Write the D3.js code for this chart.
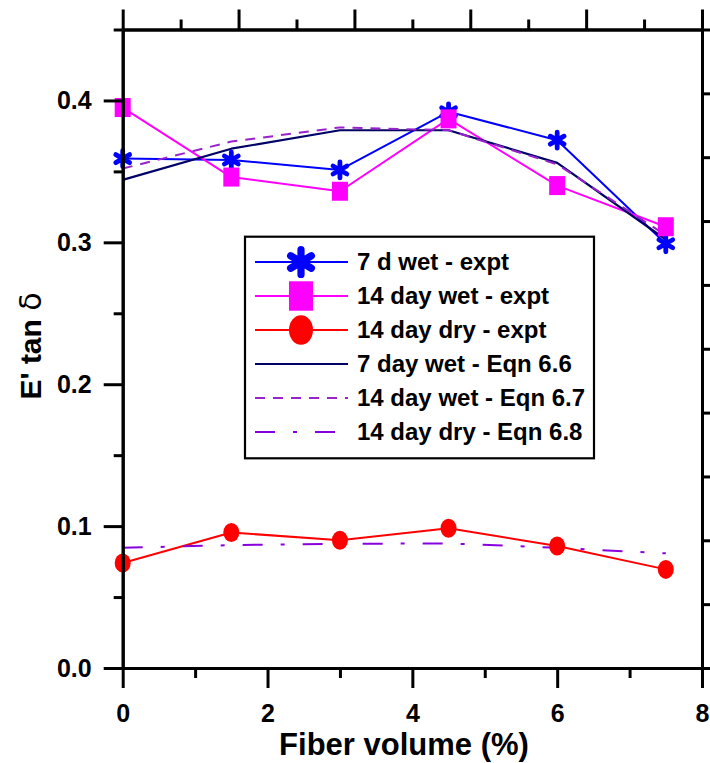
<!DOCTYPE html>
<html>
<head>
<meta charset="utf-8">
<script src="https://cdn.jsdelivr.net/npm/d3@7"></script>
<style>
html,body{margin:0;padding:0;background:#fff;}
svg{display:block;}
text{font-family:"Liberation Sans",Arial,sans-serif;font-weight:bold;fill:#000;}
</style>
</head>
<body>
<script>
// ---- data ----
const fiber = [0, 1.5, 3, 4.5, 6, 7.5];
const wet7Expt  = [0.359, 0.358, 0.351, 0.392, 0.372, 0.299];
const wet14Expt = [0.395, 0.346, 0.336, 0.387, 0.340, 0.311];
const dry14Expt = [0.074, 0.0955, 0.090, 0.0985, 0.086, 0.0695];
const wet7Eqn   = [0.344, 0.366, 0.379, 0.379, 0.356, 0.302];
const wet14Eqn  = [0.352, 0.371, 0.381, 0.379, 0.355, 0.305];
const dry14Eqn  = [0.0847, 0.0866, 0.0875, 0.0878, 0.0847, 0.0808];
const seriesNames = ["7 d wet - expt", "14 day wet - expt", "14 day dry - expt",
                     "7 day wet - Eqn 6.6", "14 day wet - Eqn 6.7", "14 day dry - Eqn 6.8"];
const xMajorTicks = [0, 2, 4, 6, 8];
const xMinorTicks = [1, 3, 5, 7];
const yMajorTicks = [0, 0.1, 0.2, 0.3, 0.4];
const yMinorTicks = [0.05, 0.15, 0.25, 0.35, 0.45];
const xTitle = "Fiber volume (%)";
const yTitleMain = "E' tan ";
const yTitleSym = "\u03B4";

// ---- styles ----
const W = 710, H = 763;
const styles = [
  {color:"#0000FF", width:2, dash:null, marker:"star"},
  {color:"#FF00FF", width:2, dash:null, marker:"square"},
  {color:"#FF0000", width:2, dash:null, marker:"circle"},
  {color:"#000066", width:2.2, dash:null, marker:null},
  {color:"#9922CC", width:2, dash:"10,8", marker:null},
  {color:"#8800DD", width:2, dash:"20,18,4,18", marker:null}
];
const seriesVals = [wet7Expt, wet14Expt, dry14Expt, wet7Eqn, wet14Eqn, dry14Eqn];

const svg = d3.select("body").append("svg").attr("width", W).attr("height", H);

const x = d3.scaleLinear().domain([0, 8]).range([122.7, 702]);
const y = d3.scaleLinear().domain([0, 0.45]).range([668, 29.5]);
// secondary (unlabelled) frame scales
const xTop = d3.scaleLinear().domain([0, 10]).range([122.7, 702]);
const yRight = d3.scaleLinear().domain([0, 10]).range([668, 29.5]);

const fmtY = d3.format(".1f");

// ---- series lines ----
const line = d3.line().x((d,i)=>x(fiber[i])).y(d=>y(d));
[0,1,2,3,4,5].forEach(k=>{
  const s = styles[k];
  const p = svg.append("path").datum(seriesVals[k])
    .attr("d", line).attr("fill","none")
    .attr("stroke", s.color).attr("stroke-width", s.width)
    .attr("stroke-linejoin","round");
  if (s.dash) p.attr("stroke-dasharray", s.dash);
});

// ---- markers ----
function drawMarker(g, type, color, cx, cy, sx, sy) {
  if (type === "star") {
    const r = 8;
    const t = r/2, u = t*Math.sqrt(3);
    const d = `M0,${r}L0,${-r}M${-u},${-t}L${u},${t}M${-u},${t}L${u},${-t}`;
    g.append("path").attr("d", d)
      .attr("transform", `translate(${cx},${cy}) scale(${sx},${sy})`)
      .attr("fill","none").attr("stroke", color)
      .attr("stroke-width", 4.8).attr("stroke-linecap","round");
  } else if (type === "square") {
    g.append("rect").attr("x", cx-8*sx).attr("y", cy-9.5*sy)
      .attr("width", 16*sx).attr("height", 19*sy).attr("fill", color);
  } else if (type === "circle") {
    g.append("ellipse").attr("cx", cx).attr("cy", cy)
      .attr("rx", 8*sx).attr("ry", 9.5*sy).attr("fill", color);
  }
}
const mk = svg.append("g");
[0,1,2].forEach(k=>{
  seriesVals[k].forEach((v,i)=>{
    drawMarker(mk, styles[k].marker, styles[k].color, x(fiber[i]), y(v), 1, 1);
  });
});

// ---- axes ----
function styleAxis(g){
  g.selectAll(".domain").attr("stroke","#000").attr("stroke-width",3);
  g.selectAll(".tick line").attr("stroke","#000").attr("stroke-width",3);
  g.selectAll("text").attr("font-size",25).attr("font-weight","bold")
    .attr("font-family","'Liberation Sans',Arial,sans-serif").attr("fill","#000");
}
// left
svg.append("g").attr("transform",`translate(${x(0)},0)`)
  .call(d3.axisLeft(y).tickValues(yMinorTicks).tickSize(9).tickSizeOuter(0).tickFormat(""))
  .call(styleAxis);
svg.append("g").attr("transform",`translate(${x(0)},0)`)
  .call(d3.axisLeft(y).tickValues(yMajorTicks).tickSize(19).tickSizeOuter(0).tickPadding(12).tickFormat(fmtY))
  .call(styleAxis);
// bottom
svg.append("g").attr("transform",`translate(0,${y(0)})`)
  .call(d3.axisBottom(x).tickValues(xMinorTicks).tickSize(10).tickSizeOuter(0).tickFormat(""))
  .call(styleAxis);
svg.append("g").attr("transform",`translate(0,${y(0)})`)
  .call(d3.axisBottom(x).tickValues(xMajorTicks).tickSize(20).tickSizeOuter(0).tickPadding(16).tickFormat(d3.format("d")))
  .call(styleAxis);
// top (no labels)
svg.append("g").attr("transform",`translate(0,${y(0.45)})`)
  .call(d3.axisTop(xTop).tickValues([1,3,5,7,9]).tickSize(10).tickSizeOuter(0).tickFormat(""))
  .call(styleAxis);
svg.append("g").attr("transform",`translate(0,${y(0.45)})`)
  .call(d3.axisTop(xTop).tickValues([0,2,4,6,8,10]).tickSize(20).tickSizeOuter(0).tickFormat(""))
  .call(styleAxis);
// right (no labels)
svg.append("g").attr("transform",`translate(${x(8)},0)`)
  .call(d3.axisRight(yRight).tickValues(d3.range(0,11)).tickSize(12).tickSizeOuter(0).tickFormat(""))
  .call(styleAxis);

// ---- titles ----
svg.append("text").attr("x", 404).attr("y", 755).attr("text-anchor","middle")
  .attr("font-size",31).text(xTitle);
const yt = svg.append("text").attr("transform","translate(41,346) rotate(-90)")
  .attr("text-anchor","middle").attr("font-size",30);
yt.append("tspan").text(yTitleMain);
yt.append("tspan").attr("font-weight","normal").attr("font-family","'DejaVu Sans',sans-serif").text(yTitleSym);

// ---- legend ----
const lg = svg.append("g");
lg.append("rect").attr("x",245).attr("y",236.7).attr("width",349).attr("height",221.6)
  .attr("fill","#fff").attr("stroke","#000").attr("stroke-width",2.2);
seriesNames.forEach((name,k)=>{
  const ry = 262 + k*34;
  const s = styles[k];
  const l = lg.append("line").attr("x1",255).attr("x2",348).attr("y1",ry).attr("y2",ry)
    .attr("stroke",s.color).attr("stroke-width",s.width);
  if (s.dash) l.attr("stroke-dasharray", s.dash);
  if (s.marker) drawMarker(lg, s.marker, s.color, 301, ry, 1.5, 1.55);
  lg.append("text").attr("x",357).attr("y",ry).attr("dy","0.35em")
    .attr("font-size",24).text(name);
});
</script>
</body>
</html>
